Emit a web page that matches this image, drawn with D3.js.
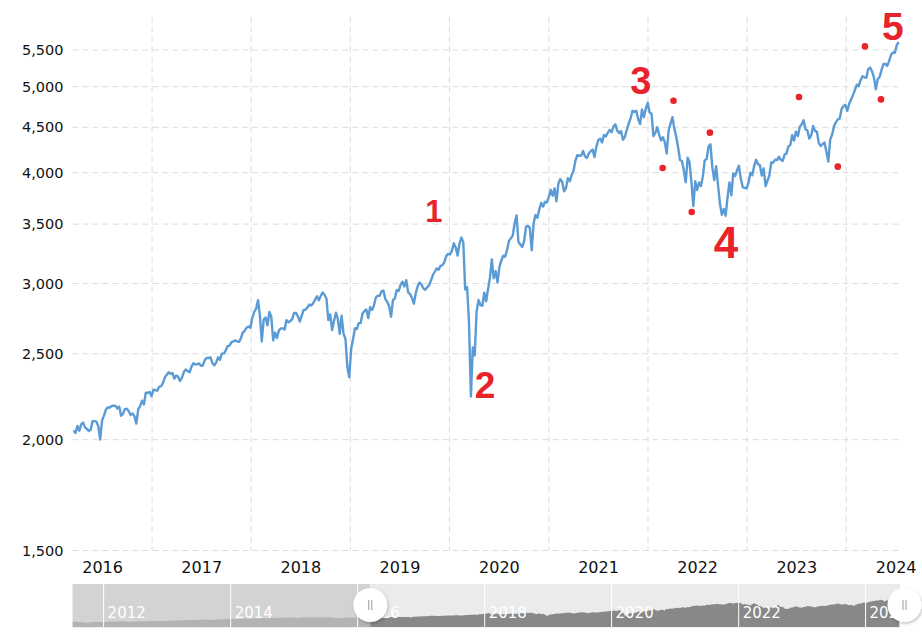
<!DOCTYPE html>
<html><head><meta charset="utf-8">
<script src="https://cdn.jsdelivr.net/npm/d3@7"></script>
<style>body{margin:0;background:#fff;}svg{display:block;}</style>
</head><body>
<svg id="chart" width="922" height="643"></svg>
<script>
// ---------- DATA ----------
// S&P 500 weekly closes; each year's list starts at the given Friday, one value per week
const yearStarts = ["2016-03-18","2017-01-06","2018-01-05","2019-01-04","2020-01-03","2021-01-08","2022-01-07","2023-01-06","2024-01-05"];
const closes2016 = [2049,2035,2072,2047,2081,2091,2065,2057,2046,2052,2099,2099,2096,2071,2001,2103,2130,2162,2175,2174,2183,2184,2184,2169,2180,2128,2139,2165,2168,2153,2133,2141,2126,2085,2164,2182,2213,2192,2260,2258,2264,2239];
const closes2017 = [2277,2275,2271,2295,2297,2316,2351,2367,2383,2373,2378,2344,2363,2355,2329,2349,2384,2399,2391,2382,2416,2439,2432,2433,2438,2423,2425,2459,2473,2472,2477,2441,2426,2443,2477,2461,2500,2502,2519,2549,2553,2575,2581,2588,2582,2578,2602,2642,2652,2675,2683,2674];
const closes2018 = [2743,2786,2810,2873,2762,2581,2732,2747,2691,2786,2752,2588,2641,2604,2656,2670,2670,2663,2728,2713,2721,2735,2779,2780,2755,2718,2760,2801,2802,2819,2840,2833,2850,2875,2902,2872,2905,2930,2914,2886,2728,2768,2659,2723,2781,2736,2633,2760,2633,2600,2417,2351];
const closes2019 = [2532,2596,2671,2665,2707,2708,2776,2793,2804,2743,2822,2801,2834,2893,2907,2905,2940,2946,2881,2860,2826,2752,2873,2887,2950,2942,2990,3014,2977,3026,2932,2919,2889,2847,2926,2979,3007,2992,2962,2952,2970,2986,3023,3067,3093,3120,3110,3141,3146,3169,3221,3240];
const closes2020 = [3235,3265,3330,3295,3226,3328,3380,3338,2954,2972,2711,2237,2541,2489,2790,2875,2837,2831,2930,2864,2955,3044,3194,3041,3098,3009,3130,3185,3225,3216,3271,3351,3373,3397,3508,3580,3341,3319,3298,3348,3477,3484,3465,3270,3510,3585,3558,3638,3699,3663,3709,3703,3756];
const closes2021 = [3825,3768,3841,3714,3887,3934,3907,3811,3842,3943,3913,3975,4020,4129,4185,4180,4181,4233,4174,4156,4204,4230,4247,4166,4281,4352,4370,4327,4412,4395,4437,4468,4442,4509,4535,4459,4433,4455,4357,4391,4471,4545,4605,4697,4683,4698,4595,4538,4712,4620,4725,4796];
const closes2022 = [4677,4663,4398,4432,4500,4419,4349,4385,4329,4204,4463,4543,4620,4488,4392,4272,4132,4123,4023,3901,4158,4109,3901,3667,3912,3825,3899,3863,3962,4130,4145,4280,4305,4058,3924,4067,3873,3693,3586,3640,3577,3752,3901,3771,3993,3965,4026,4072,3934,3852,3845,3840];
const closes2023 = [3895,3999,3973,4071,4136,4090,4079,3970,4045,3862,3917,3971,4109,4105,4138,4133,4169,4136,4124,4192,4205,4282,4299,4410,4348,4450,4399,4505,4536,4582,4478,4464,4370,4406,4516,4457,4450,4320,4288,4308,4327,4224,4117,4358,4415,4514,4559,4595,4604,4719,4755,4770];
const closes2024 = [4697,4784,4840,4891,4959,5027,5006,5089,5137,5124,5117,5234,5254,5204,5123,4967,5100,5128,5223,5303,5305,5278,5347,5432,5465,5460,5567,5615];

// Navigator history before the zoomed window: monthly closes Jul 2011 - Feb 2016
const navFirst = {date: "2011-07-06", value: 1339};
const navMonthStart = "2011-07-28";
const navMonthly = [1292,1219,1131,1253,1247,1258,
  1312,1366,1408,1398,1310,1362,1379,1407,1441,1412,1416,1426,
  1498,1515,1569,1598,1631,1606,1686,1633,1682,1757,1806,1848,
  1783,1859,1872,1884,1924,1960,1931,2003,1972,2018,2068,2059,
  1995,2105,2068,2086,2107,2063,2104,1972,1920,2079,2080,2044,
  1940,1932];

const yTickValues = [1500,2000,2500,3000,3500,4000,4500,5000,5500];
const xLabelYears = [2016,2017,2018,2019,2020,2021,2022,2023,2024];
const xGridYears = [2017,2018,2019,2020,2021,2022,2023,2024];
const navLabelYears = [2012,2014,2016,2018,2020,2022,2024];

const viewRange = ["2016-03-14","2024-07-17"];
const navRange = ["2011-07-06","2024-07-17"];

// hand-drawn annotations (date, value)
const annotationDots = [
  ["2022-04-05",4822],["2022-02-24",4049],["2022-06-11",3612],["2022-08-17",4438],
  ["2023-07-11",4869],["2023-12-01",4063],["2024-03-10",5552],["2024-05-08",4838]
];
const annotationLabels = [
  ["1","2019-11-05",3621],["2","2020-05-11",2301],["3","2021-12-06",5070],
  ["4","2022-10-15",3335],["5","2024-06-21",5851]
];

// ---------- STYLE / LAYOUT ----------
const P = {left:72.5, right:900, top:16.5, bottom:550.5};
const NAV = {top:584, bottom:627.3};
const labelSizes = {"1":31,"2":37,"3":38,"4":44,"5":39};
const RED = "#e8232a";

const parse = d3.utcParse("%Y-%m-%d");
const series = [];
[closes2016,closes2017,closes2018,closes2019,closes2020,closes2021,closes2022,closes2023,closes2024]
  .forEach((arr,k)=>{ const s = parse(yearStarts[k]); arr.forEach((v,i)=>series.push({date:d3.utcDay.offset(s,7*i), value:v})); });
const navSeries = [{date:parse(navFirst.date), value:navFirst.value}];
navMonthly.forEach((v,i)=>navSeries.push({date:d3.utcMonth.offset(parse(navMonthStart),i), value:v}));
series.forEach(d=>navSeries.push(d));

const svg = d3.select("#chart");
const x = d3.scaleUtc().domain(viewRange.map(parse)).range([P.left,P.right]);
const y = d3.scaleLog().domain([1500,6000]).range([P.bottom,P.top]);

// grid
const grid = svg.append("g").attr("stroke","#dcdcdc").attr("stroke-width",1).attr("stroke-dasharray","6,4");
grid.selectAll("line.h").data(yTickValues).join("line").attr("class","h")
  .attr("x1",P.left).attr("x2",P.right).attr("y1",d=>y(d)).attr("y2",d=>y(d));
grid.selectAll("line.v").data(xGridYears).join("line").attr("class","v")
  .attr("x1",d=>x(Date.UTC(d,0,1))).attr("x2",d=>x(Date.UTC(d,0,1))).attr("y1",P.top).attr("y2",P.bottom);

// y axis
const yAxis = svg.append("g").attr("transform",`translate(${P.left},0)`)
  .call(d3.axisLeft(y).tickValues(yTickValues).tickFormat(d3.format(",")).tickSize(0).tickPadding(9));
yAxis.select(".domain").remove();
yAxis.selectAll("text").attr("font-family","DejaVu Sans, Verdana, sans-serif").attr("font-size","14.5px").attr("fill","#111");

// x axis labels (centered mid-year)
const xAxis = svg.append("g").attr("transform",`translate(0,${P.bottom})`)
  .call(d3.axisBottom(x).tickValues(xLabelYears.map(yr=>new Date(Date.UTC(yr,6,1)))).tickFormat(d3.utcFormat("%Y")).tickSize(0).tickPadding(11));
xAxis.select(".domain").remove();
xAxis.selectAll("text").attr("font-family","DejaVu Sans, Verdana, sans-serif").attr("font-size","16px").attr("fill","#111");

// line
svg.append("clipPath").attr("id","plotclip").append("rect")
  .attr("x",P.left).attr("y",0).attr("width",P.right-P.left+2).attr("height",P.bottom);
svg.append("path").datum(series).attr("clip-path","url(#plotclip)")
  .attr("fill","none").attr("stroke","#5b9bd5").attr("stroke-width",2.4).attr("stroke-linejoin","round")
  .attr("d",d3.line().x(d=>x(d.date)).y(d=>y(d.value)));

// annotations
svg.append("g").selectAll("circle").data(annotationDots).join("circle")
  .attr("cx",d=>x(parse(d[0]))).attr("cy",d=>y(d[1])).attr("r",3.3).attr("fill",RED);
svg.append("g").selectAll("text").data(annotationLabels).join("text")
  .attr("x",d=>x(parse(d[1]))).attr("y",d=>y(d[2]))
  .attr("text-anchor","middle").attr("dominant-baseline","central")
  .attr("font-family","Liberation Sans, Arial, sans-serif").attr("font-weight","bold")
  .attr("font-size",d=>labelSizes[d[0]]+"px").attr("fill",RED).text(d=>d[0]);

// ---------- NAVIGATOR ----------
const xn = d3.scaleUtc().domain(navRange.map(parse)).range([P.left,P.right]);
const yn = d3.scaleLinear().domain([300,8100]).range([NAV.bottom,NAV.top]);
const selX = xn(parse(viewRange[0]));
const nav = svg.append("g");
nav.append("rect").attr("x",P.left).attr("y",NAV.top).attr("width",selX-P.left).attr("height",NAV.bottom-NAV.top).attr("fill","#d3d3d3");
nav.append("rect").attr("x",selX).attr("y",NAV.top).attr("width",P.right-selX).attr("height",NAV.bottom-NAV.top).attr("fill","#ebebeb");
const defs = svg.append("defs");
defs.append("clipPath").attr("id","navL").append("rect").attr("x",P.left).attr("y",NAV.top).attr("width",selX-P.left).attr("height",NAV.bottom-NAV.top);
defs.append("clipPath").attr("id","navR").append("rect").attr("x",selX).attr("y",NAV.top).attr("width",P.right-selX).attr("height",NAV.bottom-NAV.top);
const area = d3.area().x(d=>xn(d.date)).y0(NAV.bottom).y1(d=>yn(d.value));
nav.append("path").datum(navSeries).attr("clip-path","url(#navL)").attr("fill","#b3b3b3").attr("d",area);
nav.append("path").datum(navSeries).attr("clip-path","url(#navR)").attr("fill","#888888").attr("d",area);
nav.selectAll("line.nv").data(navLabelYears).join("line").attr("class","nv")
  .attr("x1",d=>xn(Date.UTC(d,0,1))).attr("x2",d=>xn(Date.UTC(d,0,1)))
  .attr("y1",NAV.top).attr("y2",NAV.bottom).attr("stroke","#fff").attr("stroke-width",1);
nav.selectAll("text").data(navLabelYears).join("text")
  .attr("x",d=>xn(Date.UTC(d,0,1))+4).attr("y",618.3)
  .attr("font-family","DejaVu Sans, Verdana, sans-serif").attr("font-size","15px").attr("fill","#fff")
  .text(d=>d);

// handles
const f = defs.append("filter").attr("id","shadow").attr("x","-50%").attr("y","-50%").attr("width","200%").attr("height","200%");
f.append("feDropShadow").attr("dx",1).attr("dy",1.5).attr("stdDeviation",1.5).attr("flood-color","#000").attr("flood-opacity",0.25);
const handles = nav.selectAll("g.h").data([selX, P.right+4.5]).join("g").attr("class","h")
  .attr("transform",d=>`translate(${d},605)`);
handles.append("circle").attr("r",17).attr("fill","#fff").attr("filter","url(#shadow)");
handles.append("line").attr("x1",-1.5).attr("x2",-1.5).attr("y1",-5).attr("y2",5).attr("stroke","#999").attr("stroke-width",1);
handles.append("line").attr("x1",1.5).attr("x2",1.5).attr("y1",-5).attr("y2",5).attr("stroke","#999").attr("stroke-width",1);
</script>
</body></html>
